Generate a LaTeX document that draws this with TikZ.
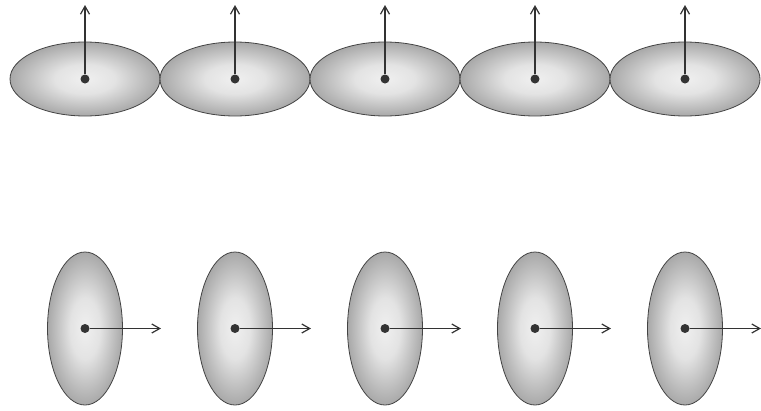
\documentclass[tikz,border=0pt]{standalone}
\usepackage{xcolor}
\usepackage{tikz}
\usetikzlibrary{arrows.meta}
\definecolor{ink}{HTML}{333333}
\definecolor{rim}{HTML}{444444}
\pgfdeclareradialshading{grain}{\pgfpoint{0bp}{0bp}}{color(0bp)=(gray!12); color(10bp)=(gray!22); color(25bp)=(gray!68); color(50bp)=(gray!68)}
\tikzset{
  grainfill/.style={shading=grain,draw=rim,line width=0.8pt},
  spin/.style={-{Straight Barb[length=8pt,width=9pt]},draw=ink,line width=1.2pt},
  pivot/.style={circle,fill=ink,inner sep=0pt,minimum size=9pt}
}

\begin{document}
\begin{tikzpicture}[x=1pt,y=-1pt]
\useasboundingbox (0,0) rectangle (761,410);
% top: lying flat, pointing up
\foreach \i in {1,...,5} {
  \pgfmathsetmacro{\cx}{85+150*(\i-1)}
  \shade[grainfill] (\cx,79) ellipse (75 and 37);
  \node[pivot] (a\i) at (\cx,79) {};
  \coordinate (ta\i) at (\cx,5);
  \draw[spin] (a\i) -- (ta\i);
}
% bottom: standing, pointing right
\foreach \i in {1,...,5} {
  \pgfmathsetmacro{\cx}{85+150*(\i-1)}
  \shade[grainfill] (\cx,328.5) ellipse (37.5 and 76.5);
  \node[pivot] (b\i) at (\cx,328.5) {};
  \coordinate (tb\i) at (\cx+76,328.5);
  \draw[spin] (b\i) -- (tb\i);
}
\end{tikzpicture}
\end{document}
